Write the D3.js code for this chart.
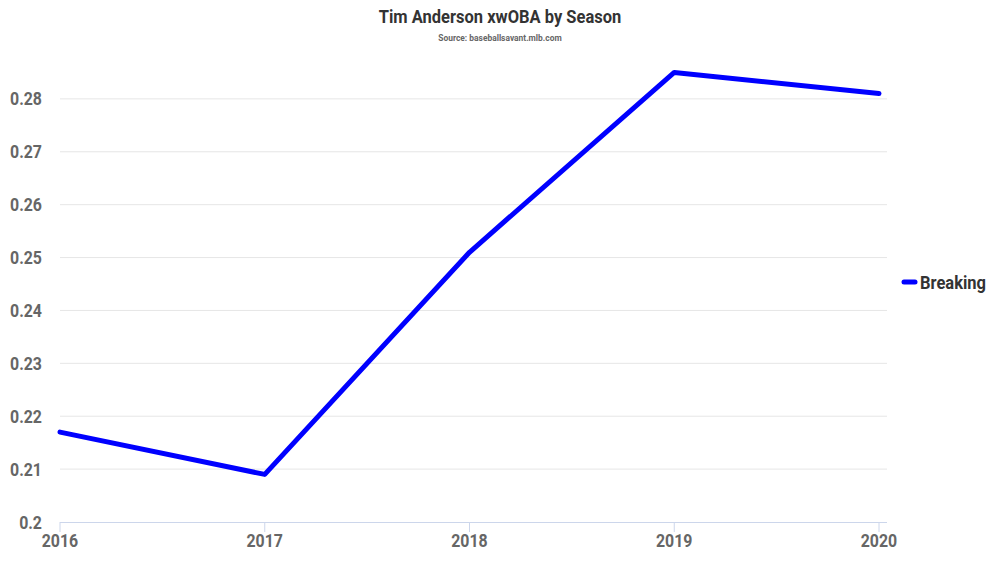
<!DOCTYPE html>
<html><head><meta charset="utf-8">
<script src="https://cdn.jsdelivr.net/npm/d3@7"></script>
<style>body{margin:0;background:#fff}svg{display:block;font-family:Roboto,"Noto Sans",sans-serif}</style>
</head><body><svg id="c" width="1000" height="563"></svg>
<script>
const seasons = [2016, 2017, 2018, 2019, 2020];
const breaking = [0.217, 0.209, 0.251, 0.285, 0.281];
const yTicks = [0.2, 0.21, 0.22, 0.23, 0.24, 0.25, 0.26, 0.27, 0.28];
const title = "Tim Anderson xwOBA by Season";
const subtitle = "Source: baseballsavant.mlb.com";
const seriesName = "Breaking";

const svg = d3.select("#c");
const L = 60, R = 887, T = 46, B = 522;
const x = d3.scalePoint().domain(seasons).range([L, 879]);
const y = d3.scaleLinear().domain([0.2, 0.29]).range([B, T]);

svg.append("text").attr("x", 500).attr("y", 23).attr("text-anchor", "middle")
  .attr("font-size", 19.2).attr("font-weight", 700).attr("fill", "#333")
  .attr("transform", "translate(500,0) scale(0.86,1) translate(-500,0)").text(title);
svg.append("text").attr("x", 500).attr("y", 41).attr("text-anchor", "middle")
  .attr("font-size", 9.8).attr("font-weight", 700).attr("fill", "#666")
  .attr("transform", "translate(500,0) scale(0.86,1) translate(-500,0)").text(subtitle);

// grid
svg.append("g").selectAll("line").data(yTicks.slice(1)).join("line")
  .attr("x1", L).attr("x2", R).attr("y1", d => y(d)).attr("y2", d => y(d))
  .attr("stroke", "#e6e6e6").attr("stroke-width", 1);

// y labels
svg.append("g").selectAll("text").data(yTicks).join("text")
  .attr("transform", d => `translate(42,${y(d) + 6.5}) scale(0.86,1)`)
  .attr("text-anchor", "end").attr("font-size", 18.5).attr("font-weight", 700).attr("fill", "#666")
  .text(d => d3.format("")(+d.toFixed(2)));

// x axis
const xa = svg.append("g");
xa.append("line").attr("x1", L).attr("x2", R).attr("y1", B + 0.5).attr("y2", B + 0.5).attr("stroke", "#ccd6eb");
xa.selectAll("line.t").data(seasons).join("line").attr("class", "t")
  .attr("x1", d => x(d)).attr("x2", d => x(d)).attr("y1", B).attr("y2", B + 10).attr("stroke", "#ccd6eb");
xa.selectAll("text").data(seasons).join("text")
  .attr("transform", d => `translate(${x(d)},547) scale(0.86,1)`)
  .attr("text-anchor", "middle").attr("font-size", 18.5).attr("font-weight", 700).attr("fill", "#666")
  .text(d => d);

// line
const data = seasons.map((s, i) => [s, breaking[i]]);
svg.append("path").datum(data)
  .attr("d", d3.line().x(d => x(d[0])).y(d => y(d[1])))
  .attr("fill", "none").attr("stroke", "#0000ff").attr("stroke-width", 5)
  .attr("stroke-linecap", "round").attr("stroke-linejoin", "round");

// legend
svg.append("line").attr("x1", 904).attr("x2", 915).attr("y1", 282).attr("y2", 282)
  .attr("stroke", "#0000ff").attr("stroke-width", 5).attr("stroke-linecap", "round");
svg.append("text").attr("transform", "translate(920,288.5) scale(0.86,1)")
  .attr("font-size", 19.2).attr("font-weight", 700).attr("fill", "#333").text(seriesName);
</script></body></html>
